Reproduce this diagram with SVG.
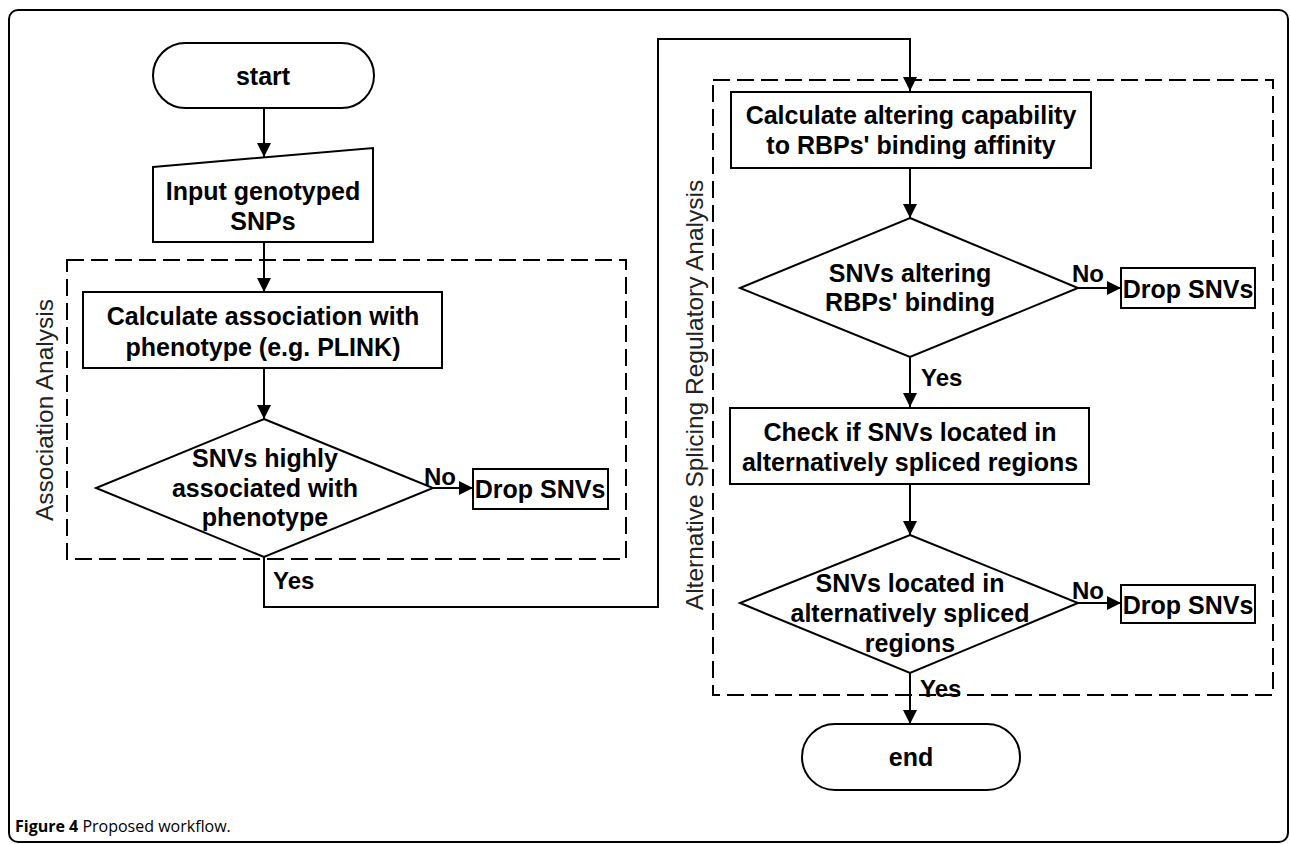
<svg xmlns="http://www.w3.org/2000/svg" width="1290" height="844" viewBox="0 0 1290 844">
<style>
.shape{fill:#fff;stroke:#000;stroke-width:2}
.group{fill:none;stroke:#000;stroke-width:2;stroke-dasharray:17 7}
.t{font-family:"Liberation Sans",Arial,sans-serif;font-weight:bold;font-size:25px;fill:#000;text-anchor:middle;dominant-baseline:central}
.lbl{font-family:"Liberation Sans",Arial,sans-serif;font-weight:bold;font-size:24px;fill:#000;dominant-baseline:central}
.side{font-family:"Liberation Sans",Arial,sans-serif;font-size:24.5px;fill:#222;text-anchor:middle;dominant-baseline:central}
.conn{fill:none;stroke:#000;stroke-width:2}
</style>
<defs>
<marker id="arr" viewBox="0 0 14 14" refX="14" refY="7" markerWidth="14" markerHeight="14" markerUnits="userSpaceOnUse" orient="auto">
<path d="M0,0 L14,7 L0,14 z" fill="#000"/>
</marker>
</defs>
<rect x="9" y="10" width="1279" height="832" rx="9" fill="#fff" stroke="#000" stroke-width="2"/>

<g id="group-association">
<rect class="group" x="67" y="260" width="559" height="299"/>
<text class="side" transform="translate(44,410) rotate(-90)">Association Analysis</text>
</g>
<g id="group-splicing">
<rect class="group" x="713" y="80" width="560" height="615"/>
<text class="side" transform="translate(694,395) rotate(-90)">Alternative Splicing Regulatory Analysis</text>
</g>

<g id="connectors">
<line class="conn" x1="264" y1="108" x2="264" y2="157" marker-end="url(#arr)"/>
<line class="conn" x1="264" y1="242" x2="264" y2="292" marker-end="url(#arr)"/>
<line class="conn" x1="264" y1="368" x2="264" y2="419" marker-end="url(#arr)"/>
<line class="conn" x1="433" y1="488" x2="473" y2="488" marker-end="url(#arr)"/>
<polyline class="conn" points="264,557 264,607 658,607 658,39 910,39 910,91" marker-end="url(#arr)"/>
<line class="conn" x1="910" y1="168" x2="910" y2="218" marker-end="url(#arr)"/>
<line class="conn" x1="1078" y1="288" x2="1121" y2="288" marker-end="url(#arr)"/>
<line class="conn" x1="910" y1="357" x2="910" y2="407" marker-end="url(#arr)"/>
<line class="conn" x1="910" y1="484" x2="910" y2="535" marker-end="url(#arr)"/>
<line class="conn" x1="1078" y1="603" x2="1121" y2="603" marker-end="url(#arr)"/>
<line class="conn" x1="910" y1="673" x2="910" y2="724" marker-end="url(#arr)"/>
<text class="lbl" x="424" y="476">No</text>
<text class="lbl" x="273" y="580">Yes</text>
<text class="lbl" x="1072" y="273">No</text>
<text class="lbl" x="921" y="377">Yes</text>
<text class="lbl" x="1072" y="590">No</text>
<text class="lbl" x="920" y="688">Yes</text>
</g>

<g id="start">
<rect class="shape" x="153" y="43" width="221" height="65" rx="32.5"/>
<text class="t" x="263" y="76">start</text>
</g>
<g id="input">
<polygon class="shape" points="153,167 373,148 373,242 153,242"/>
<text class="t" x="263" y="191">Input genotyped</text>
<text class="t" x="263" y="221">SNPs</text>
</g>
<g id="calc-association">
<rect class="shape" x="83" y="292" width="359" height="76"/>
<text class="t" x="263" y="316">Calculate association with</text>
<text class="t" x="263" y="347">phenotype (e.g. PLINK)</text>
</g>
<g id="decision-association">
<polygon class="shape" points="264,419 433,488 264,557 96,488"/>
<text class="t" x="265" y="458">SNVs highly</text>
<text class="t" x="265" y="488">associated with</text>
<text class="t" x="265" y="517">phenotype</text>
</g>
<g id="drop1">
<rect class="shape" x="473" y="469" width="135" height="40"/>
<text class="t" x="540" y="489">Drop SNVs</text>
</g>
<g id="calc-altering">
<rect class="shape" x="731" y="92" width="360" height="76"/>
<text class="t" x="911" y="115">Calculate altering capability</text>
<text class="t" x="911" y="145">to RBPs' binding affinity</text>
</g>
<g id="decision-altering">
<polygon class="shape" points="910,218 1078,288 910,357 740,288"/>
<text class="t" x="910" y="273">SNVs altering</text>
<text class="t" x="910" y="302">RBPs' binding</text>
</g>
<g id="drop2">
<rect class="shape" x="1121" y="268" width="134" height="40"/>
<text class="t" x="1188" y="289">Drop SNVs</text>
</g>
<g id="check">
<rect class="shape" x="730" y="408" width="359" height="76"/>
<text class="t" x="910" y="432">Check if SNVs located in</text>
<text class="t" x="910" y="462">alternatively spliced regions</text>
</g>
<g id="decision-located">
<polygon class="shape" points="910,535 1078,603 910,673 740,603"/>
<text class="t" x="910" y="583">SNVs located in</text>
<text class="t" x="910" y="613">alternatively spliced</text>
<text class="t" x="910" y="643">regions</text>
</g>
<g id="drop3">
<rect class="shape" x="1121" y="585" width="134" height="38"/>
<text class="t" x="1188" y="605">Drop SNVs</text>
</g>
<g id="end">
<rect class="shape" x="802" y="724" width="218" height="66" rx="33"/>
<text class="t" x="911" y="757">end</text>
</g>

<text x="15" y="832" font-family="'Open Sans','Liberation Sans',sans-serif" font-size="16" fill="#000"><tspan font-weight="bold">Figure 4</tspan> Proposed workflow.</text>
</svg>
